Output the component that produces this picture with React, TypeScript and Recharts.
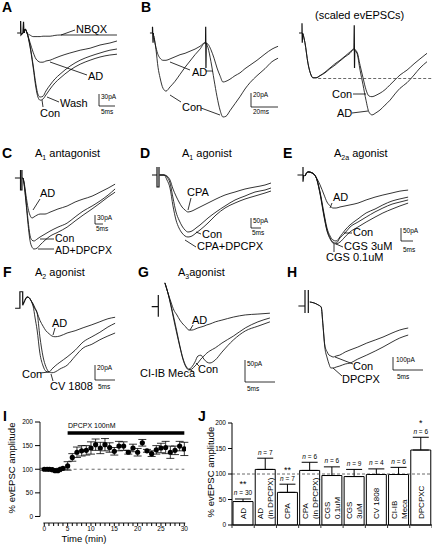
import React from "react";
import {
  LineChart,
  Line,
  XAxis,
  YAxis,
  ScatterChart,
  Scatter,
  ErrorBar,
  ReferenceLine,
  BarChart,
  Bar,
  LabelList,
} from "recharts";

const FONT = '"Liberation Sans", Arial, Helvetica, sans-serif';

// ---------- A : NBQX / AD / wash  (ms, pA) ----------
const tA = [1.3, 1.6, 2.2, 3.1, 4.1, 5.0, 5.6, 6.3, 7.2, 8.1, 9.4, 10.9, 12.5, 15.6, 18.8, 21.9, 25.0, 28.1, 30.3];
const nbqxA = [0, 10, 0, -5, -9, -9, -9, -9, -8, -8, -8, -6, -5, -5, -5, -5, -5, -5, -5];
const adA = [0, 10, 0, -23, -48, -65, -70, -73, -73, -70, -68, -63, -58, -50, -43, -38, -30, -25, -20];
const washA = [0, 10, 0, -30, -80, -130, -153, -160, -158, -145, -130, -115, -103, -83, -68, -58, -50, -43, -40];
const conA = [0, 10, 0, -33, -85, -138, -160, -168, -165, -155, -140, -125, -113, -93, -78, -68, -60, -55, -53];
const stimTA = [-0.9, 0.2, 0.2, 0.3, 0.9, 1.1, 1.25];
const stimIA = [0, 0, 30, -5, 0, 28, 0];

// ---------- B : paired pulse ----------
const tB = [1.1, 2.6, 4.1, 5.6, 7.8, 10.0, 13.0, 16.7, 20.4, 24.1, 27.8, 31.5, 35.2, 38.9, 41.1, 43.3, 45.6, 47.8, 50.0, 52.2, 54.4, 57.4, 61.1, 64.8, 68.5, 72.2, 77.4, 83.3, 88.5, 93.0];
const conB = [-4, -24, -49, -64, -79, -83, -77, -69, -59, -49, -40, -31, -23, -14, -21, -41, -67, -91, -110, -120, -119, -111, -101, -91, -80, -71, -61, -51, -41, -36];
const adB = [-7, -21, -31, -36, -39, -39, -37, -34, -31, -29, -26, -23, -19, -14, -16, -24, -36, -50, -61, -70, -69, -66, -61, -57, -51, -46, -39, -30, -23, -19];
const stimTB = [-1.9, 0, 0, 0.4, 0.7, 20, 39.3, 39.4, 39.6, 39.8];
const stimIB = [0, 0, 9, -14, 0, null, -14, 9, -50, -14];

const tBs = [0.7, 2.2, 4.4, 6.7, 8.1, 10.4, 13.3, 17.0, 20.7, 24.4, 28.1, 31.9, 35.6, 38.1, 40.7, 43.0, 45.2, 47.4, 49.6, 51.9, 54.8, 57.8, 61.5, 65.2, 68.9, 72.6, 77.8, 83.0, 87.4, 92.6];
const conBs = [-1, -14, -43, -60, -64, -64, -61, -56, -50, -44, -39, -33, -27, -23, -27, -46, -64, -81, -90, -91, -89, -86, -81, -74, -67, -60, -53, -44, -37, -29];
const adBs = [-1, -14, -43, -60, -64, -64, -61, -57, -51, -46, -40, -34, -29, -24, -29, -53, -74, -96, -113, -117, -114, -110, -103, -96, -87, -79, -71, -60, -50, -41];
const stimTBs = [-2.2, 0, 0, 0.2, 0.5, 20, 38.5, 38.7, 38.9, 39.1];
const stimIBs = [0, 0, 14, -14, 0, null, -23, 11, -50, -23];
const peakBs = -65;

// ---------- C : A1 antagonist ----------
const tC = [1.3, 1.9, 3.1, 4.4, 5.6, 6.9, 8.1, 10.0, 11.9, 15.0, 18.1, 23.1, 28.8, 33.8, 38.8, 44.4, 49.4, 54.4, 58.8];
const adC = [0, -15, -64, -113, -139, -150, -146, -139, -135, -135, -128, -116, -105, -90, -79, -68, -53, -38, -23];
const conC = [0, -19, -83, -158, -214, -233, -236, -229, -221, -210, -199, -184, -169, -146, -124, -105, -86, -64, -41];
const adDpcpxC = [0, -23, -90, -173, -233, -259, -266, -263, -251, -233, -218, -203, -184, -161, -139, -116, -94, -71, -53];
const stimTC = [-3.8, -0.3, -0.3, -0.3, 0.6, 0.6, 0.6, 1.3];
const stimIC = [0, 0, 30, -45, -45, 30, 0, 0];

// ---------- D : A1 agonist ----------
const tD = [1, 3, 4.5, 6, 7.5, 9, 10.5, 12, 13.5, 15, 17, 19, 21, 25, 29, 33.5, 38.5, 43.5, 48.5, 53.5, 56.5];
const cpaD = [0, 0, -6, -30, -84, -126, -162, -192, -210, -222, -216, -204, -192, -168, -144, -120, -102, -84, -72, -60, -48];
const conD = [0, 0, -12, -48, -138, -222, -270, -306, -330, -342, -336, -318, -300, -258, -222, -186, -150, -126, -102, -90, -78];
const cpaDpcpxD = [0, 0, -30, -78, -186, -270, -318, -348, -366, -372, -366, -348, -330, -288, -240, -198, -168, -144, -126, -108, -96];
const stimTD = [-3, -0.5, -0.5, -0.5, 0.5, 0.5, 0.5, 1];
const stimID = [0, 0, 48, -72, -72, 48, 0, 0];

// ---------- E : A2a agonist ----------
const tE = [0.8, 2.1, 3.8, 5.4, 7.1, 8.8, 10.0, 11.3, 12.5, 13.8, 15.4, 17.5, 19.6, 22.9, 26.3, 30.0, 33.3, 37.1, 40.4, 43.8];
const adE = [-4, 12, 8, -8, -38, -77, -104, -119, -127, -127, -123, -119, -115, -108, -96, -85, -77, -69, -62, -58];
const conE = [-4, 12, 8, -8, -65, -150, -204, -235, -250, -254, -238, -212, -192, -169, -146, -131, -115, -100, -92, -85];
const cgs3E = [-4, 12, 8, -8, -69, -158, -212, -242, -258, -262, -242, -223, -200, -181, -162, -142, -127, -112, -104, -96];
const cgs01E = [-4, 12, 8, -8, -73, -162, -215, -246, -262, -265, -258, -238, -219, -200, -181, -162, -146, -131, -119, -108];
const stimTE = [-2.3, 0, 0, 0, 0.3];
const stimIE = [0, 0, 31, -26, 0];

// ---------- F : A2 agonist ----------
const tF = [0.6, 1.1, 1.6, 2.1, 2.6, 3.1, 3.6, 4.3, 5.1, 5.8, 6.6, 7.3, 8.1, 9.3, 11.1, 13.1, 15.1, 17.3, 19.3, 21.3, 23.1];
const adF = [4, 8, 7, 3, -3, -8, -13, -23, -31, -37, -41, -44, -45, -44, -40, -37, -33, -29, -25, -21, -19];
const conF = [4, 8, 7, 3, -4, -20, -36, -67, -84, -91, -92, -88, -84, -79, -72, -63, -52, -45, -39, -32, -27];
const cvF = [4, 8, 7, 3, -1, -7, -13, -45, -72, -85, -92, -93, -92, -88, -83, -71, -60, -55, -49, -44, -40];
const stimTF = [-1.9, -0.7, -0.7, 0, 0, 0.6];
const stimIF = [-7, -7, 15, 15, -3, 4];

// ---------- G : A3 agonist ----------
const tG = [1.1, 1.6, 2.1, 2.6, 3.1, 3.6, 4.1, 4.6, 5.1, 5.6, 6.1, 6.6, 7.1, 7.6, 8.1, 8.6, 9.5, 10.6, 12.5, 14.5, 16.6, 18.6];
const adG = [55, 32, 11, -8, -19, -31, -40, -47, -54, -54, -52, -49, -47, -45, -42, -40, -35, -31, -24, -19, -17, -15];
const mecaG = [55, 32, 2, -31, -63, -93, -121, -139, -146, -144, -137, -130, -121, -114, -107, -102, -95, -84, -68, -49, -35, -26];
const conG = [55, 32, 4, -26, -58, -91, -119, -137, -144, -139, -128, -114, -112, -121, -128, -130, -123, -105, -77, -56, -45, -35];
const stimTG = [-1.1, 0, 0, 0];
const stimIG = [0, 0, 27, -23];

// ---------- H : DPCPX ----------
const tH = [0.8, 1.5, 2.2, 2.7, 3.0, 3.3, 3.7, 4.0, 4.3, 4.7, 5.2, 5.8, 6.7, 7.5, 8.8, 10.3, 11.7, 13.0, 14.5, 15.8, 17.2];
const conH = [30, 23, 8, -8, -143, -293, -345, -368, -375, -383, -375, -368, -345, -330, -308, -278, -255, -233, -203, -180, -165];
const dpcpxH = [30, 23, 8, -8, -150, -308, -390, -435, -465, -465, -458, -450, -435, -428, -398, -368, -338, -308, -270, -240, -218];
const stimTH = [-1.1, 0, 0, 0, 0.3, 0.55, 0.55];
const stimIH = [0, 0, 120, -52, null, 120, -52];

// ---------- I : time course ----------
const tI = [0, 0.6, 1.1, 1.7, 2.3, 2.9, 3.4, 4.0, 5, 6, 7, 8, 9, 10, 11, 12, 13, 14, 15, 16, 17, 18, 19, 20, 21, 22, 23, 24, 25, 26, 27, 28, 29, 30];
const vI = [100, 100, 100, 99, 97, 97, 100, 102, 107, 125, 136, 139, 140, 145, 152, 145, 152, 146, 138, 149, 149, 136, 145, 136, 156, 139, 133, 141, 145, 146, 136, 140, 149, 143];
const eI = [2, 2, 2, 2, 2, 2, 2, 2, 9, 8, 11, 11, 10, 13, 12, 12, 13, 10, 8, 10, 9, 4, 8, 8, 7, 3, 6, 9, 10, 13, 13, 9, 10, 14];
const iTicksX = [0, 1, 2, 3, 4, 5, 6, 7, 8, 9, 10, 11, 12, 13, 14, 15, 16, 17, 18, 19, 20, 21, 22, 23, 24, 25, 26, 27, 28, 29, 30];
const iTicksY = [0, 50, 100, 150, 200];
const drugStart = 5;
const drugEnd = 30;

// ---------- J : summary ----------
const jNames = ["AD", "AD (in DPCPX)", "CPA", "CPA (in DPCPX)", "CGS 0.1uM", "CGS 3uM", "CV 1808", "CI-IB Meca", "DPCPXC"];
const jLines = [["AD"], ["AD", "(in DPCPX)"], ["CPA"], ["CPA", "(in DPCPX)"], ["CGS", "0.1uM"], ["CGS", "3uM"], ["CV 1808"], ["CI-IB", "Meca"], ["DPCPXC"]];
const jMean = [46, 109, 64, 107, 97, 95, 99, 99, 147];
const jSem = [5, 22, 16, 16, 17, 14, 11, 14, 25];
const jN = [30, 7, 7, 6, 6, 9, 4, 6, 6];
const jStars = ["**", "", "**", "", "", "", "", "", "*"];
const jTicksY = [0, 50, 100, 150, 200];

type Box = { left: number; top: number; width: number; height: number; x0: number; y0: number; pxPerMs: number; pxPerPa: number };
type Trace = { t: number[]; i: (number | null)[]; stim?: boolean };

const pts = (t: number[], v: (number | null)[]) => t.map((x, k) => ({ t: x, i: v[k] }));

function TracePanel({ box, traces, children }: { box: Box; traces: Trace[]; children?: React.ReactNode }) {
  const xDomain = [(box.left - box.x0) / box.pxPerMs, (box.left + box.width - box.x0) / box.pxPerMs];
  const yDomain = [(box.y0 - box.top - box.height) / box.pxPerPa, (box.y0 - box.top) / box.pxPerPa];
  return (
    <div style={{ position: "absolute", left: box.left, top: box.top }}>
      <LineChart width={box.width} height={box.height} margin={{ top: 0, right: 0, bottom: 0, left: 0 }}>
        <XAxis type="number" dataKey="t" domain={xDomain} hide allowDataOverflow />
        <YAxis type="number" domain={yDomain} hide allowDataOverflow />
        {traces.map((tr, k) => (
          <Line
            key={k}
            data={pts(tr.t, tr.i)}
            dataKey="i"
            type={tr.stim ? "linear" : "monotone"}
            stroke="#111"
            strokeWidth={tr.stim ? 1.2 : 0.85}
            dot={false}
            activeDot={false}
            isAnimationActive={false}
          />
        ))}
        {children}
      </LineChart>
    </div>
  );
}

const boxA: Box = { left: 15, top: 15, width: 107, height: 95, x0: 20, y0: 33, pxPerMs: 3.2, pxPerPa: 0.4 };
const boxB: Box = { left: 145, top: 18, width: 137, height: 105, x0: 152.5, y0: 33, pxPerMs: 1.35, pxPerPa: 0.7 };
const boxBs: Box = { left: 296, top: 18, width: 136, height: 105, x0: 302, y0: 33, pxPerMs: 1.35, pxPerPa: 0.7 };
const boxC: Box = { left: 12, top: 160, width: 110, height: 100, x0: 21, y0: 178, pxPerMs: 1.6, pxPerPa: 0.267 };
const boxD: Box = { left: 145, top: 160, width: 130, height: 100, x0: 158, y0: 175, pxPerMs: 2, pxPerPa: 0.1667 };
const boxE: Box = { left: 290, top: 160, width: 125, height: 105, x0: 303, y0: 175, pxPerMs: 2.4, pxPerPa: 0.26 };
const boxF: Box = { left: 12, top: 285, width: 110, height: 105, x0: 22.7, y0: 303, pxPerMs: 4, pxPerPa: 0.75 };
const boxG: Box = { left: 140, top: 278, width: 135, height: 112, x0: 158.3, y0: 306.7, pxPerMs: 6, pxPerPa: 0.433 };
const boxH: Box = { left: 290, top: 280, width: 125, height: 110, x0: 305, y0: 306, pxPerMs: 6, pxPerPa: 0.1333 };

// J bar chart geometry
const J_W = 237;
const J_H = 131;
const J_TOP = 8;
const J_AXIS_H = 21;
const J_YAXIS_W = 37;
const J_SCALE = (J_H - J_TOP - J_AXIS_H) / 200;
const J_BAND = (J_W - J_YAXIS_W) / jNames.length;

const JTick = (p: any) => {
  const x = Number(p.x);
  const y = Number(p.y);
  const idx = jNames.indexOf(p.payload?.value);
  return (
    <g>
      <line x1={x - J_BAND / 2} y1={y} x2={x - J_BAND / 2} y2={y + 3} stroke="#000" strokeWidth={0.8} />
      {idx === jNames.length - 1 && (
        <line x1={x + J_BAND / 2} y1={y} x2={x + J_BAND / 2} y2={y + 3} stroke="#000" strokeWidth={0.8} />
      )}
    </g>
  );
};

const BarText = (p: any) => {
  const idx = jNames.indexOf(p.value);
  if (idx < 0) return null;
  const x = Number(p.x);
  const y = Number(p.y);
  const w = Number(p.width);
  const h = Number(p.height);
  const lines = jLines[idx];
  const cx = x + w / 2;
  const bottom = y + h - 6;
  const cols = lines.length === 1 ? [cx] : [cx - 5, cx + 5];
  return (
    <g>
      {lines.map((s, k) => {
        const bx = cols[k] + 3;
        return (
          <text key={k} x={bx} y={bottom} transform={`rotate(-90 ${bx} ${bottom})`} fontSize={8} fill="#000" textAnchor="start" fontFamily={FONT}>
            {s}
          </text>
        );
      })}
    </g>
  );
};

const NText = (p: any) => {
  const idx = jNames.indexOf(p.value);
  if (idx < 0) return null;
  const x = Number(p.x);
  const y = Number(p.y);
  const w = Number(p.width);
  const cx = x + w / 2;
  const capY = y - jSem[idx] * J_SCALE;
  const base = capY - 3.5;
  return (
    <g fontFamily={FONT}>
      <text x={cx} y={base} textAnchor="middle" fontSize={6.5} fill="#000">
        <tspan fontStyle="italic">n</tspan> = {jN[idx]}
      </text>
      {jStars[idx] && (
        <text x={cx} y={base - 8} textAnchor="middle" fontSize={9} fill="#000">
          {jStars[idx]}
        </text>
      )}
    </g>
  );
};

const Dot = (p: any) => <circle cx={p.cx} cy={p.cy} r={2.6} fill="#000" />;

// only every 5th minute carries a label
const ITick = (p: any) => {
  const v = Number(p.payload?.value);
  if (v % 5 !== 0) return null;
  return (
    <text x={p.x} y={Number(p.y) + 5} textAnchor="middle" fontSize={6.5} fill="#000" fontFamily={FONT}>
      {v}
    </text>
  );
};

const tickFont = { fontSize: 6.5, fill: "#000", fontFamily: FONT };

function Overlay() {
  const L = (x1: number, y1: number, x2: number, y2: number) => (
    <line x1={x1} y1={y1} x2={x2} y2={y2} stroke="#000" strokeWidth={0.8} />
  );
  return (
    <svg width={432} height={546} style={{ position: "absolute", left: 0, top: 0, pointerEvents: "none" }} fontFamily={FONT}>
      {/* panel letters */}
      <g fontSize={14} fontWeight="bold" fill="#000">
        <text x={2} y={12}>A</text>
        <text x={141} y={12}>B</text>
        <text x={2} y={158}>C</text>
        <text x={140} y={158}>D</text>
        <text x={283} y={158}>E</text>
        <text x={3} y={277}>F</text>
        <text x={138} y={277}>G</text>
        <text x={287} y={277}>H</text>
        <text x={3} y={421}>I</text>
        <text x={198} y={421}>J</text>
      </g>
      {/* titles */}
      <g fontSize={11} fill="#000">
        <text x={35} y={157}>A<tspan fontSize={7} dy={2.5}>1</tspan><tspan dy={-2.5}> antagonist</tspan></text>
        <text x={182} y={157}>A<tspan fontSize={7} dy={2.5}>1</tspan><tspan dy={-2.5}> agonist</tspan></text>
        <text x={334} y={157}>A<tspan fontSize={7} dy={2.5}>2a</tspan><tspan dy={-2.5}> agonist</tspan></text>
        <text x={35} y={276}>A<tspan fontSize={7} dy={2.5}>2</tspan><tspan dy={-2.5}> agonist</tspan></text>
        <text x={178} y={276}>A<tspan fontSize={7} dy={2.5}>3</tspan><tspan dy={-2.5}>agonist</tspan></text>
        <text x={315} y={19}>(scaled evEPSCs)</text>
      </g>
      {/* trace labels */}
      <g fontSize={11} fill="#000">
        <text x={76} y={33}>NBQX</text>
        <text x={88} y={80}>AD</text>
        <text x={60} y={107}>Wash</text>
        <text x={40} y={117}>Con</text>
        <text x={192} y={76}>AD</text>
        <text x={182} y={111}>Con</text>
        <text x={332} y={98}>Con</text>
        <text x={337} y={117}>AD</text>
        <text x={40} y={197}>AD</text>
        <text x={55} y={242} fontSize={10.5}>Con</text>
        <text x={55} y={254} fontSize={10.5}>AD+DPCPX</text>
        <text x={187} y={196}>CPA</text>
        <text x={202} y={238}>Con</text>
        <text x={197} y={250}>CPA+DPCPX</text>
        <text x={333} y={201}>AD</text>
        <text x={353} y={236}>Con</text>
        <text x={344} y={250}>CGS 3uM</text>
        <text x={326} y={261}>CGS 0.1uM</text>
        <text x={52} y={327}>AD</text>
        <text x={22} y={378}>Con</text>
        <text x={50} y={390}>CV 1808</text>
        <text x={192} y={324}>AD</text>
        <text x={140} y={377}>CI-IB Meca</text>
        <text x={198} y={373}>Con</text>
        <text x={353} y={370}>Con</text>
        <text x={342} y={383}>DPCPX</text>
      </g>
      {/* connectors */}
      {L(61, 35, 75, 30)}
      {L(50, 62, 87, 75)}
      {L(47, 97, 59, 102)}
      {L(42, 100, 43, 107)}
      {L(170, 62, 190, 70)}
      {L(206, 71, 213, 71)}
      {L(170, 95, 181, 102)}
      {L(201, 108, 220, 115)}
      {L(353, 94, 366, 94)}
      {L(352, 113, 368, 111)}
      {L(33, 210, 40, 199)}
      {L(40, 239, 54, 239)}
      {L(38, 249, 54, 249)}
      {L(191, 198, 188, 210)}
      {L(196, 232, 201, 234)}
      {L(185, 240, 196, 247)}
      {L(332, 203, 330, 208)}
      {L(344, 233, 352, 233)}
      {L(336, 244, 343, 247)}
      {L(334, 252, 334, 244)}
      {L(55, 328, 53, 335)}
      {L(40, 373, 49, 372)}
      {L(53, 381, 51, 374)}
      {L(193, 325, 190, 330)}
      {L(194, 372, 189, 369)}
      {L(199, 366, 196, 363)}
      {L(335, 357, 353, 364)}
      {L(333, 368, 342, 376)}
      {/* scale bars */}
      {L(99, 94, 99, 106)}
      {L(99, 106, 115, 106)}
      {L(251, 93, 251, 107)}
      {L(251, 107, 278, 107)}
      {L(95, 215, 95, 224)}
      {L(95, 224, 103, 224)}
      {L(251, 218, 251, 228)}
      {L(251, 228, 261, 228)}
      {L(401, 228, 401, 241)}
      {L(401, 241, 413, 241)}
      {L(95, 365, 95, 380)}
      {L(95, 380, 115, 380)}
      {L(245, 360, 245, 382)}
      {L(245, 382, 275, 382)}
      {L(393, 357, 393, 370)}
      {L(393, 370, 423, 370)}
      <g fontSize={6.5} fill="#000">
        <text x={101} y={99}>30pA</text>
        <text x={101} y={114}>5ms</text>
        <text x={253} y={97}>20pA</text>
        <text x={253} y={114}>20ms</text>
        <text x={97} y={220}>30pA</text>
        <text x={96} y={231}>5ms</text>
        <text x={253} y={223}>50pA</text>
        <text x={252} y={235}>5ms</text>
        <text x={403} y={233}>50pA</text>
        <text x={403} y={252}>5ms</text>
        <text x={97} y={370}>20pA</text>
        <text x={98} y={389}>5ms</text>
        <text x={247} y={366}>50pA</text>
        <text x={247} y={391}>5ms</text>
        <text x={396} y={362}>100pA</text>
        <text x={397} y={379}>5ms</text>
      </g>
      {/* I / J annotations */}
      <text x={68} y={428} fontSize={7} fill="#000">DPCPX 100nM</text>
      <text x={14.5} y={468} fontSize={9.5} fill="#000" textAnchor="middle" transform="rotate(-90 14.5 468)">% evEPSC amplitude</text>
      <text x={84} y={542} fontSize={9.5} fill="#000" textAnchor="middle">Time (min)</text>
      <text x={213.5} y={472} fontSize={9.5} fill="#000" textAnchor="middle" transform="rotate(-90 213.5 472)">% evEPSC amplitude</text>
    </svg>
  );
}

export default function App() {
  const iData = tI.map((t, k) => ({ t, v: vI[k], e: eI[k] }));
  const jData = jNames.map((name, k) => ({ name, mean: jMean[k], err: [0, jSem[k]] }));
  const iYmin = -13.8;
  const iXmin = -0.92;
  return (
    <div style={{ position: "absolute", left: 0, top: 0, width: 432, height: 546, background: "#fff", overflow: "hidden", fontFamily: FONT }}>
      <TracePanel
        box={boxA}
        traces={[
          { t: stimTA, i: stimIA, stim: true },
          { t: tA, i: nbqxA },
          { t: tA, i: adA },
          { t: tA, i: washA },
          { t: tA, i: conA },
        ]}
      />
      <TracePanel
        box={boxB}
        traces={[
          { t: stimTB, i: stimIB, stim: true },
          { t: tB, i: adB },
          { t: tB, i: conB },
        ]}
      />
      <TracePanel
        box={boxBs}
        traces={[
          { t: stimTBs, i: stimIBs, stim: true },
          { t: tBs, i: conBs },
          { t: tBs, i: adBs },
        ]}
      >
        <ReferenceLine
          segment={[{ x: 12, y: peakBs }, { x: 96, y: peakBs }]}
          stroke="#444"
          strokeWidth={0.8}
          strokeDasharray="3 2"
          ifOverflow="visible"
        />
      </TracePanel>
      <TracePanel
        box={boxC}
        traces={[
          { t: stimTC, i: stimIC, stim: true },
          { t: tC, i: adC },
          { t: tC, i: conC },
          { t: tC, i: adDpcpxC },
        ]}
      />
      <TracePanel
        box={boxD}
        traces={[
          { t: stimTD, i: stimID, stim: true },
          { t: tD, i: cpaD },
          { t: tD, i: conD },
          { t: tD, i: cpaDpcpxD },
        ]}
      />
      <TracePanel
        box={boxE}
        traces={[
          { t: stimTE, i: stimIE, stim: true },
          { t: tE, i: adE },
          { t: tE, i: conE },
          { t: tE, i: cgs3E },
          { t: tE, i: cgs01E },
        ]}
      />
      <TracePanel
        box={boxF}
        traces={[
          { t: stimTF, i: stimIF, stim: true },
          { t: tF, i: adF },
          { t: tF, i: conF },
          { t: tF, i: cvF },
        ]}
      />
      <TracePanel
        box={boxG}
        traces={[
          { t: stimTG, i: stimIG, stim: true },
          { t: tG, i: adG },
          { t: tG, i: mecaG },
          { t: tG, i: conG },
        ]}
      />
      <TracePanel
        box={boxH}
        traces={[
          { t: stimTH, i: stimIH, stim: true },
          { t: tH, i: conH },
          { t: tH, i: dpcpxH },
        ]}
      />

      {/* I */}
      <div style={{ position: "absolute", left: 0, top: 415 }}>
        <ScatterChart width={195} height={131} margin={{ top: 7, right: 9, bottom: 0, left: 0 }}>
          <XAxis
            type="number"
            dataKey="t"
            domain={[iXmin, 30.36]}
            ticks={iTicksX}
            interval={0}
            tick={ITick}
            axisLine={false}
            tickSize={3}
            tickMargin={0}
            height={23}
            stroke="#000"
            allowDataOverflow
          />
          <YAxis
            type="number"
            dataKey="v"
            domain={[iYmin, 200]}
            ticks={iTicksY}
            interval={0}
            axisLine={false}
            tickSize={5}
            tickMargin={2}
            width={40}
            stroke="#000"
            tick={tickFont}
            allowDataOverflow
          />
          <ReferenceLine segment={[{ x: iXmin, y: 0 }, { x: iXmin, y: 200 }]} stroke="#000" strokeWidth={0.9} ifOverflow="visible" />
          <ReferenceLine segment={[{ x: -0.2, y: iYmin }, { x: 30.2, y: iYmin }]} stroke="#000" strokeWidth={0.9} ifOverflow="visible" />
          <ReferenceLine segment={[{ x: drugStart, y: 100 }, { x: drugEnd, y: 100 }]} stroke="#444" strokeWidth={0.8} strokeDasharray="3 3" />
          <ReferenceLine segment={[{ x: drugStart, y: 176.7 }, { x: drugEnd, y: 176.7 }]} stroke="#000" strokeWidth={3.5} />
          <Scatter data={iData} dataKey="v" shape={Dot} isAnimationActive={false}>
            <ErrorBar dataKey="e" direction="y" width={4} stroke="#000" strokeWidth={0.8} isAnimationActive={false} />
          </Scatter>
        </ScatterChart>
      </div>

      {/* J */}
      <div style={{ position: "absolute", left: 195, top: 415 }}>
        <BarChart width={J_W} height={J_H} data={jData} margin={{ top: J_TOP, right: 0, bottom: 0, left: 0 }} barCategoryGap={0}>
          <XAxis dataKey="name" tick={JTick} tickLine={false} tickSize={0} tickMargin={0} height={J_AXIS_H} interval={0} stroke="#000" />
          <YAxis
            type="number"
            domain={[0, 200]}
            ticks={jTicksY}
            interval={0}
            width={J_YAXIS_W}
            tickSize={4}
            tickMargin={2}
            stroke="#000"
            tick={tickFont}
          />
          <ReferenceLine y={100} stroke="#444" strokeWidth={0.8} strokeDasharray="3 2" />
          <Bar dataKey="mean" fill="#fff" stroke="#000" strokeWidth={1} barSize={20} isAnimationActive={false}>
            <ErrorBar dataKey="err" direction="y" width={8} stroke="#000" strokeWidth={1} isAnimationActive={false} />
            <LabelList dataKey="name" content={BarText} />
            <LabelList dataKey="name" content={NText} />
          </Bar>
        </BarChart>
      </div>

      <Overlay />
    </div>
  );
}
